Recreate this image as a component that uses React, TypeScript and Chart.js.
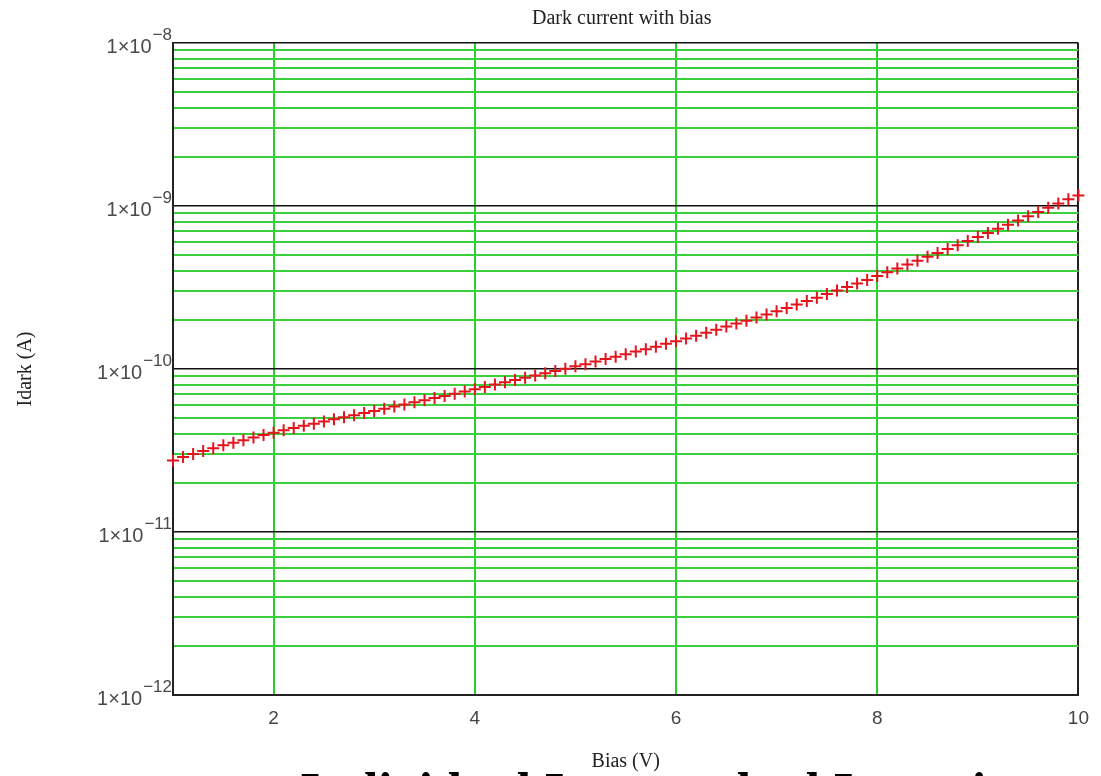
import React, { useEffect, useRef } from 'react';
import { Chart, registerables } from 'chart.js';

Chart.register(...registerables);

const TITLE = 'Dark current with bias';
const X_TITLE = 'Bias (V)';
const Y_TITLE = 'Idark (A)';
const CAPTION = 'Individual Inverse dual Inverting';

const biasV = [
  1.0, 1.1, 1.2, 1.3, 1.4, 1.5, 1.6, 1.7, 1.8, 1.9,
  2.0, 2.1, 2.2, 2.3, 2.4, 2.5, 2.6, 2.7, 2.8, 2.9,
  3.0, 3.1, 3.2, 3.3, 3.4, 3.5, 3.6, 3.7, 3.8, 3.9,
  4.0, 4.1, 4.2, 4.3, 4.4, 4.5, 4.6, 4.7, 4.8, 4.9,
  5.0, 5.1, 5.2, 5.3, 5.4, 5.5, 5.6, 5.7, 5.8, 5.9,
  6.0, 6.1, 6.2, 6.3, 6.4, 6.5, 6.6, 6.7, 6.8, 6.9,
  7.0, 7.1, 7.2, 7.3, 7.4, 7.5, 7.6, 7.7, 7.8, 7.9,
  8.0, 8.1, 8.2, 8.3, 8.4, 8.5, 8.6, 8.7, 8.8, 8.9,
  9.0, 9.1, 9.2, 9.3, 9.4, 9.5, 9.6, 9.7, 9.8, 9.9,
  10.0,
];

const idarkA = [
  2.75e-11, 2.88e-11, 3.01e-11, 3.14e-11, 3.27e-11, 3.40e-11, 3.53e-11, 3.66e-11, 3.80e-11, 3.94e-11,
  4.07e-11, 4.21e-11, 4.35e-11, 4.48e-11, 4.61e-11, 4.76e-11, 4.91e-11, 5.06e-11, 5.21e-11, 5.37e-11,
  5.53e-11, 5.70e-11, 5.88e-11, 6.05e-11, 6.25e-11, 6.44e-11, 6.64e-11, 6.84e-11, 7.06e-11, 7.28e-11,
  7.52e-11, 7.76e-11, 8.02e-11, 8.28e-11, 8.55e-11, 8.83e-11, 9.12e-11, 9.42e-11, 9.73e-11, 1.005e-10,
  1.04e-10, 1.07e-10, 1.11e-10, 1.15e-10, 1.19e-10, 1.23e-10, 1.28e-10, 1.32e-10, 1.37e-10, 1.43e-10,
  1.48e-10, 1.54e-10, 1.60e-10, 1.67e-10, 1.74e-10, 1.82e-10, 1.90e-10, 1.98e-10, 2.07e-10, 2.16e-10,
  2.26e-10, 2.37e-10, 2.49e-10, 2.61e-10, 2.74e-10, 2.88e-10, 3.03e-10, 3.18e-10, 3.35e-10, 3.52e-10,
  3.72e-10, 3.92e-10, 4.13e-10, 4.37e-10, 4.61e-10, 4.88e-10, 5.15e-10, 5.45e-10, 5.75e-10, 6.10e-10,
  6.46e-10, 6.84e-10, 7.24e-10, 7.67e-10, 8.15e-10, 8.65e-10, 9.18e-10, 9.75e-10, 1.035e-9, 1.10e-9,
  1.16e-9,
];

const xTickValues = [1, 2, 4, 6, 8, 10];
const yDecadeExponents = [-12, -11, -10, -9, -8];
const yMinorMultipliers = [1, 2, 3, 4, 5, 6, 7, 8, 9];

const isDecade = (v: number) => {
  const l = Math.log10(v);
  return Math.abs(l - Math.round(l)) < 1e-6;
};

const textPlugin = {
  id: 'textPlugin',
  afterDraw(chart: any) {
    const ctx = chart.ctx as CanvasRenderingContext2D;
    const area = chart.chartArea;
    const yScale = chart.scales.y;
    ctx.save();
    ctx.fillStyle = '#222';
    ctx.font = '20px "Liberation Serif"';
    ctx.textAlign = 'center';
    ctx.textBaseline = 'middle';
    ctx.fillText(TITLE, (area.left + area.right) / 2 - 4, 19);
    ctx.fillText(X_TITLE, (area.left + area.right) / 2, 762);
    ctx.save();
    ctx.translate(26, (area.top + area.bottom) / 2);
    ctx.rotate(-Math.PI / 2);
    ctx.fillText(Y_TITLE, 0, 0);
    ctx.restore();
    ctx.fillStyle = '#4a4a4a';
    ctx.textBaseline = 'middle';
    yDecadeExponents.forEach((e) => {
      const y = yScale.getPixelForValue(Math.pow(10, e));
      const expText = '\u2212' + String(Math.abs(e));
      ctx.font = '17px "Liberation Sans"';
      const expW = ctx.measureText(expText).width;
      const right = 172;
      ctx.textAlign = 'left';
      ctx.fillText(expText, right - expW, y - 8);
      ctx.font = '20px "Liberation Sans"';
      ctx.textAlign = 'right';
      ctx.fillText('1\u00d710', right - expW - 1, y + 4);
    });
    ctx.fillStyle = '#000';
    ctx.font = 'bold 52px "Liberation Serif"';
    ctx.textAlign = 'left';
    ctx.textBaseline = 'alphabetic';
    ctx.fillText(CAPTION, 300, 809);
    ctx.restore();
  },
};

export default function App() {
  const canvasRef = useRef<HTMLCanvasElement | null>(null);

  useEffect(() => {
    const canvas = canvasRef.current;
    if (!canvas) return;
    const points = biasV.map((x, i) => ({ x, y: idarkA[i] }));
    const chart = new Chart(canvas, {
      type: 'scatter',
      data: {
        datasets: [
          {
            data: points,
            pointStyle: 'cross',
            pointRadius: 6,
            pointBorderWidth: 2,
            borderColor: '#e3141c',
            backgroundColor: '#e3141c',
            showLine: false,
            clip: false as any,
          } as any,
        ],
      },
      options: {
        animation: false,
        responsive: false,
        events: [],
        layout: { padding: { top: 43, right: 20, left: 0, bottom: 0 } },
        plugins: {
          legend: { display: false },
          tooltip: { enabled: false },
          title: { display: false },
        },
        scales: {
          x: {
            type: 'linear',
            min: 1,
            max: 10,
            afterBuildTicks: (s: any) => {
              s.ticks = xTickValues.map((v) => ({ value: v }));
            },
            afterFit: (s: any) => {
              s.height = 81;
            },
            ticks: {
              autoSkip: false,
              maxRotation: 0,
              padding: 12,
              color: '#444',
              font: { family: 'Liberation Sans', size: 19 },
              callback: (v: any) => (Number(v) === 1 ? '' : String(v)),
            },
            grid: {
              drawTicks: false,
              color: (c: any) => (c.tick && (c.tick.value === 1 || c.tick.value === 10) ? '#222' : '#2ccc2c'),
              lineWidth: 2,
            },
            border: { color: '#222', width: 2 },
          },
          y: {
            type: 'logarithmic',
            min: 1e-12,
            max: 1e-8,
            afterBuildTicks: (s: any) => {
              const t: any[] = [];
              yDecadeExponents.forEach((e, i) => {
                if (i === yDecadeExponents.length - 1) {
                  t.push({ value: Math.pow(10, e) });
                } else {
                  yMinorMultipliers.forEach((m) => t.push({ value: m * Math.pow(10, e) }));
                }
              });
              s.ticks = t;
            },
            afterFit: (s: any) => {
              s.width = 173;
            },
            ticks: { display: false },
            grid: {
              drawTicks: false,
              color: (c: any) => (c.tick && isDecade(c.tick.value) ? '#111' : '#3ccf3c'),
              lineWidth: (c: any) => (c.tick && isDecade(c.tick.value) ? 1.5 : 2),
            },
            border: { color: '#222', width: 2 },
          },
        },
      },
      plugins: [textPlugin],
    });
    return () => chart.destroy();
  }, []);

  return (
    <div style={{ position: 'absolute', left: 0, top: 0, width: 1101, height: 776, background: '#fff', overflow: 'hidden' }}>
      <canvas ref={canvasRef} width={1101} height={776} style={{ display: 'block' }} />
    </div>
  );
}
